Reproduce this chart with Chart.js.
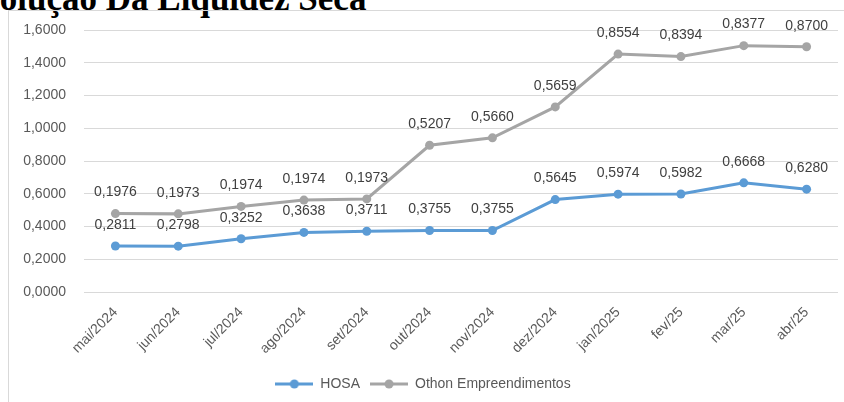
<!DOCTYPE html>
<html>
<head>
<meta charset="utf-8">
<script src="https://cdn.jsdelivr.net/npm/chart.js@4.4.1/dist/chart.umd.min.js"></script>
<style>
  html, body { margin: 0; padding: 0; background: #fff; }
  #wrap { position: relative; width: 844px; height: 402px; overflow: hidden; }
  #titulo {
    position: absolute; left: -41px; top: -19px;
    font-family: "Liberation Serif", serif; font-weight: bold; font-size: 35px;
    line-height: 35px; color: #000; white-space: nowrap;
  }
  #moldura {
    position: absolute; left: 8px; top: 10px; width: 900px; height: 500px;
    border-left: 1px solid #d9d9d9; border-top: 1px solid #d9d9d9;
  }
  canvas { position: absolute; left: 0; top: 0; }
</style>
</head>
<body>
<div id="wrap">
  <div id="titulo">Evolução Da Liquidez Seca</div>
  <div id="moldura"></div>
  <canvas id="grafico" width="844" height="402"></canvas>
</div>
<script>
const meses = ["mai/2024", "jun/2024", "jul/2024", "ago/2024", "set/2024", "out/2024",
  "nov/2024", "dez/2024", "jan/2025", "fev/25", "mar/25", "abr/25"];
const hosa = [0.2811, 0.2798, 0.3252, 0.3638, 0.3711, 0.3755, 0.3755, 0.5645, 0.5974, 0.5982, 0.6668, 0.6280];
const othon = [0.1976, 0.1973, 0.1974, 0.1974, 0.1973, 0.5207, 0.5660, 0.5659, 0.8554, 0.8394, 0.8377, 0.8700];

const azul = "#5b9bd5";
const cinza = "#a5a5a5";
const fonte = "'Liberation Sans', Arial, sans-serif";

function formatar(v) {
  return v.toFixed(4).replace(".", ",");
}

// icone da legenda: linha com bolinha
function iconeLegenda(cor) {
  const c = document.createElement("canvas");
  c.width = 38;
  c.height = 10;
  const g = c.getContext("2d");
  g.strokeStyle = cor;
  g.lineWidth = 3;
  g.beginPath();
  g.moveTo(0, 5);
  g.lineTo(38, 5);
  g.stroke();
  g.fillStyle = cor;
  g.beginPath();
  g.arc(19, 5, 4.5, 0, Math.PI * 2);
  g.fill();
  return c;
}

// rotulos dos valores acima dos pontos
const rotulos = {
  id: "rotulos",
  afterDatasetsDraw(chart) {
    const ctx = chart.ctx;
    ctx.save();
    ctx.font = "14px " + fonte;
    ctx.fillStyle = "#404040";
    ctx.textAlign = "center";
    ctx.textBaseline = "middle";
    chart.data.datasets.forEach((ds, i) => {
      const meta = chart.getDatasetMeta(i);
      meta.data.forEach((pt, j) => {
        ctx.fillText(formatar(ds.data[j]), pt.x, pt.y - 21);
      });
    });
    ctx.restore();
  }
};

const ctx = document.getElementById("grafico").getContext("2d");
const grafico = new Chart(ctx, {
  type: "line",
  data: {
    labels: meses,
    datasets: [
      {
        label: "HOSA",
        data: hosa,
        borderColor: azul,
        backgroundColor: azul,
        borderWidth: 3,
        pointRadius: 4.5,
        pointBorderWidth: 0,
        fill: false,
        tension: 0
      },
      {
        label: "Othon Empreendimentos",
        data: othon,
        borderColor: cinza,
        backgroundColor: cinza,
        borderWidth: 3,
        pointRadius: 4.5,
        pointBorderWidth: 0,
        fill: false,
        tension: 0
      }
    ]
  },
  options: {
    responsive: false,
    animation: false,
    layout: { padding: { left: 8, right: 6, top: 30, bottom: 1 } },
    plugins: {
      tooltip: { enabled: false },
      legend: {
        position: "bottom",
        labels: {
          usePointStyle: true,
          pointStyleWidth: 38,
          padding: 10,
          color: "#595959",
          font: { family: fonte, size: 14 },
          generateLabels(chart) {
            return chart.data.datasets.map((ds, i) => ({
              text: ds.label,
              fontColor: "#595959",
              pointStyle: iconeLegenda(ds.borderColor),
              strokeStyle: ds.borderColor,
              fillStyle: ds.borderColor,
              lineWidth: 0,
              datasetIndex: i
            }));
          }
        }
      }
    },
    scales: {
      x: {
        offset: true,
        grid: { display: false },
        border: { display: false },
        ticks: {
          color: "#595959",
          font: { family: fonte, size: 14 },
          minRotation: 45,
          maxRotation: 45,
          padding: 4
        },
        afterFit(s) { s.height = 75; }
      },
      y: {
        stacked: true,
        min: 0,
        max: 1.6,
        grid: { color: "#d9d9d9", lineWidth: 1, drawTicks: false },
        border: { display: false },
        ticks: {
          stepSize: 0.2,
          padding: 18,
          color: "#595959",
          font: { family: fonte, size: 14 },
          callback: (v) => formatar(v)
        },
        afterFit(s) { s.width = 76; }
      }
    }
  },
  plugins: [rotulos]
});
</script>
</body>
</html>
